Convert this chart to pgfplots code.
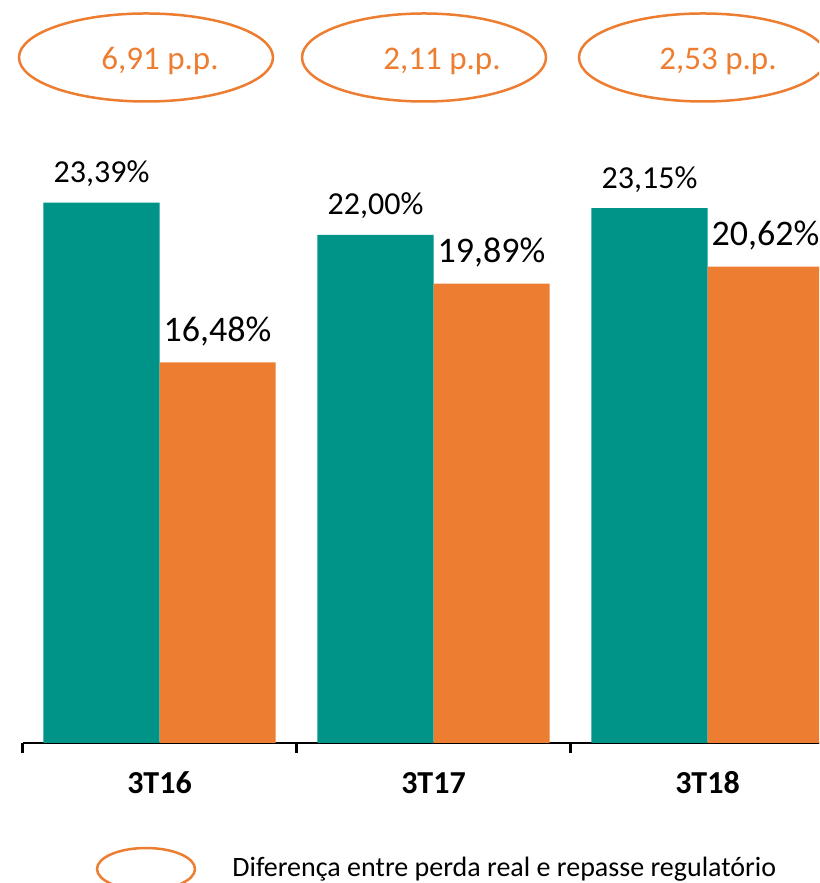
\documentclass[border=0pt]{standalone}
\usepackage{fontspec}
\setmainfont{Carlito}
\usepackage{pgfplots}
\pgfplotsset{compat=1.18}
\definecolor{tealbar}{RGB}{0,148,136}
\definecolor{orangebar}{RGB}{237,125,49}

\begin{document}
\begin{tikzpicture}
\useasboundingbox (0,0) rectangle (409.5pt,441.5pt);
\clip (0,0) rectangle (409.5pt,441.5pt);
\begin{axis}[
  at={(11.25pt,70pt)}, anchor=south west,
  scale only axis, width=411pt, height=288.75pt,
  xmin=-0.5, xmax=2.5, ymin=0, ymax=25,
  ybar=0pt, bar width=0.4234,
  axis x line*=bottom, axis y line=none,
  axis line style={black, line width=1.1pt, -},
  xtick={-0.5,0.5,1.5,2.5}, xticklabels={},
  tick align=outside, major tick length=5pt,
  tick style={black, line width=1.1pt},
  extra x ticks={0,1,2}, extra x tick labels={3T16,3T17,3T18},
  extra x tick style={major tick length=0pt,
    xticklabel style={anchor=base, yshift=-25.5pt,
      font=\fontsize{16}{19}\selectfont\bfseries}},
  ytick=\empty,
  /pgf/number format/assume math mode=true,
  nodes near coords={\pgfmathprintnumber[fixed,fixed zerofill,precision=2,use comma]{\pgfplotspointmeta}\%},
  clip=false,
]
\addplot[fill=tealbar, draw=none,
  every node near coord/.append style={font=\fontsize{16}{19}\selectfont, anchor=base, yshift=10pt}]
  coordinates {(0,23.39) (1,22.00) (2,23.15)};
\addplot[fill=orangebar, draw=none,
  every node near coord/.append style={font=\fontsize{18}{21}\selectfont, anchor=base, yshift=10.5pt}]
  coordinates {(0,16.48) (1,19.89) (2,20.62)};
\end{axis}

% difference ellipses on top
\begin{scope}[orangebar, line width=1.25pt]
  \draw (73pt,412.75pt) ellipse [x radius=63.5pt, y radius=22pt];
  \draw (212pt,412.75pt) ellipse [x radius=61pt, y radius=22pt];
  \draw (351.5pt,412.75pt) ellipse [x radius=62pt, y radius=22pt];
\end{scope}
\begin{scope}[every node/.style={anchor=base, text=orangebar, font=\fontsize{16.5}{19}\selectfont}]
  \node at (80pt,406.5pt) {6,91 p.p.};
  \node at (221pt,406.5pt) {2,11 p.p.};
  \node at (359pt,406.5pt) {2,53 p.p.};
\end{scope}

% legend
\draw[orangebar, line width=1.25pt] (73pt,7pt) ellipse [x radius=24.5pt, y radius=10.5pt];
\node[anchor=base west, inner sep=0pt, font=\fontsize{14}{17}\selectfont] at (116pt,3.2pt)
  {Diferença entre perda real e repasse regulatório};
\end{tikzpicture}
\end{document}
